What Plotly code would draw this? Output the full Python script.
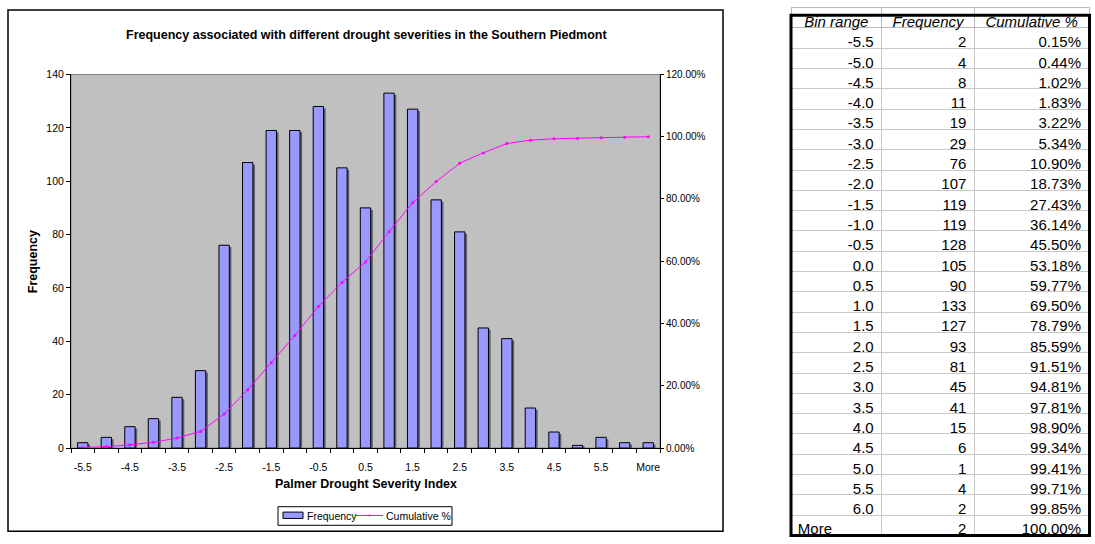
import plotly.graph_objects as go

# Histogram bins of the Palmer Drought Severity Index
bin_labels = ["-5.5", "-5.0", "-4.5", "-4.0", "-3.5", "-3.0", "-2.5", "-2.0",
              "-1.5", "-1.0", "-0.5", "0.0", "0.5", "1.0", "1.5", "2.0",
              "2.5", "3.0", "3.5", "4.0", "4.5", "5.0", "5.5", "6.0", "More"]
frequency = [2, 4, 8, 11, 19, 29, 76, 107, 119, 119, 128, 105, 90, 133, 127,
             93, 81, 45, 41, 15, 6, 1, 4, 2, 2]
cumulative = [0.0015, 0.0044, 0.0102, 0.0183, 0.0322, 0.0534, 0.1090, 0.1873,
              0.2743, 0.3614, 0.4550, 0.5318, 0.5977, 0.6950, 0.7879, 0.8559,
              0.9151, 0.9481, 0.9781, 0.9890, 0.9934, 0.9941, 0.9971, 0.9985,
              1.0000]
axis_ticks = ["-5.5", "-4.5", "-3.5", "-2.5", "-1.5", "-0.5", "0.5", "1.5",
              "2.5", "3.5", "4.5", "5.5", "More"]

W, H = 1095, 544
FONT = "Liberation Sans, Arial, sans-serif"
BAR_COLOR = "#9999FF"
LINE_COLOR = "#FF00FF"


def px_x(p):
    return p / W


def px_y(p):
    return 1 - p / H


def label(text, x, y, size, xanchor="center", angle=0):
    return dict(text=text, x=px_x(x), y=px_y(y), xref="paper", yref="paper",
                xanchor=xanchor, yanchor="middle", textangle=angle,
                showarrow=False, font=dict(size=size))


idx = list(range(len(bin_labels)))
bar_w = 0.44
n = len(bin_labels)

fig = go.Figure()

# drop shadow behind each bar
fig.add_trace(go.Bar(
    x=idx, y=[max(v - 0.7, 0) for v in frequency],
    width=bar_w, offset=-bar_w / 2 + 0.09,
    marker=dict(color="#5f5f6a", line=dict(width=0)),
    showlegend=False, hoverinfo="skip",
))
fig.add_trace(go.Bar(
    x=idx, y=frequency, name="Frequency",
    width=bar_w, offset=-bar_w / 2, showlegend=False,
    marker=dict(color=BAR_COLOR, line=dict(color="black", width=1)),
))
fig.add_trace(go.Scatter(
    x=idx, y=cumulative, name="Cumulative %", yaxis="y2",
    mode="lines+markers", showlegend=False,
    line=dict(color=LINE_COLOR, width=1),
    marker=dict(color=LINE_COLOR, size=3),
))

# data table on the right; the text label of the last bin sits at the left
# edge of its cell, so it is padded with non-breaking spaces
table_bins = bin_labels[:-1] + [bin_labels[-1] + "\u00a0" * 10]
fig.add_trace(go.Table(
    domain=dict(x=[px_x(791), px_x(1090)], y=[0.0, px_y(1.5)]),
    columnwidth=[91, 93, 115],
    header=dict(
        values=["Bin range", "Frequency", "Cumulative %"],
        align="center", height=20.5,
        font=dict(family=FONT, size=15, color="black", style="italic"),
        fill=dict(color="white"),
        line=dict(color="#b8b8b8", width=1),
    ),
    cells=dict(
        values=[table_bins, frequency, cumulative],
        format=[None, None, ".2%"],
        align="right",
        height=20.3,
        font=dict(family=FONT, size=15, color="black"),
        fill=dict(color="white"),
        line=dict(color="#c8c8c8", width=1),
    ),
))

x_dom = [px_x(71), px_x(660)]
y_dom = [px_y(452), px_y(70)]

# hand-built legend box below the x-axis title
leg_shapes = [
    dict(type="rect", xref="paper", yref="paper",
         x0=px_x(278), x1=px_x(452), y0=px_y(531), y1=px_y(512),
         line=dict(color="black", width=1), fillcolor="white", layer="above"),
    dict(type="rect", xref="paper", yref="paper",
         x0=px_x(283), x1=px_x(303), y0=px_y(524), y1=px_y(517.5),
         line=dict(color="black", width=1), fillcolor=BAR_COLOR, layer="above"),
    dict(type="line", xref="paper", yref="paper",
         x0=px_x(356), x1=px_x(383), y0=px_y(521), y1=px_y(521),
         line=dict(color=LINE_COLOR, width=1), layer="above"),
    dict(type="rect", xref="paper", yref="paper",
         x0=px_x(368.5), x1=px_x(370.5), y0=px_y(522), y1=px_y(520),
         line=dict(color=LINE_COLOR, width=0), fillcolor=LINE_COLOR, layer="above"),
]

fig.update_layout(
    width=W, height=H,
    margin=dict(l=0, r=0, t=0, b=0),
    paper_bgcolor="white",
    plot_bgcolor="#C0C0C0",
    barmode="overlay",
    showlegend=False,
    font=dict(family=FONT, size=10, color="black"),
    xaxis=dict(
        domain=x_dom, range=[-0.5, n - 0.5],
        tickmode="array", tickvals=idx[::2], ticktext=axis_ticks,
        ticks="outside", ticklen=0, ticklabelstandoff=9,
        minor=dict(tick0=-0.5, dtick=1, ticks="outside", ticklen=4,
                   tickcolor="black", tickwidth=1),
        showline=True, linecolor="black", linewidth=1,
        showgrid=False, zeroline=False, fixedrange=True,
        tickfont=dict(size=10.5),
    ),
    yaxis=dict(
        domain=y_dom, range=[0, 140], dtick=20,
        ticks="outside", ticklen=4, tickcolor="black",
        showline=True, linecolor="black", linewidth=1,
        showgrid=False, zeroline=False,
        tickfont=dict(size=10.5),
    ),
    yaxis2=dict(
        overlaying="y", side="right", anchor="x",
        range=[0, 1.2], dtick=0.2, tickformat=".2%",
        ticks="outside", ticklen=3, tickcolor="black",
        showline=True, linecolor="black", linewidth=1,
        showgrid=False, zeroline=False,
        tickfont=dict(size=10),
    ),
    annotations=[
        label("<b>Frequency associated with different drought severities in the Southern Piedmont</b>",
              366, 30, 12.5),
        label("<b>Palmer Drought Severity Index</b>", 366, 489, 12.5),
        label("<b>Frequency</b>", 33, 262, 12.5, angle=-90),
        label("Frequency", 305, 521.5, 10.5, xanchor="left"),
        label("Cumulative %", 384, 521.5, 10.5, xanchor="left"),
    ],
    shapes=[
        # chart frame
        dict(type="rect", xref="paper", yref="paper",
             x0=px_x(8), x1=px_x(723), y0=px_y(537), y1=px_y(4),
             line=dict(color="black", width=1.5), layer="below"),
        # plot area outline
        dict(type="rect", xref="x domain", yref="y domain",
             x0=0, x1=1, y0=0, y1=1,
             line=dict(color="#808080", width=1), layer="below"),
        # heavy border around the table
        dict(type="rect", xref="paper", yref="paper",
             x0=px_x(791), x1=px_x(1089.5), y0=px_y(541.5), y1=px_y(9.5),
             line=dict(color="black", width=3), layer="above"),
    ] + leg_shapes,
)

fig.write_html("out.html")
